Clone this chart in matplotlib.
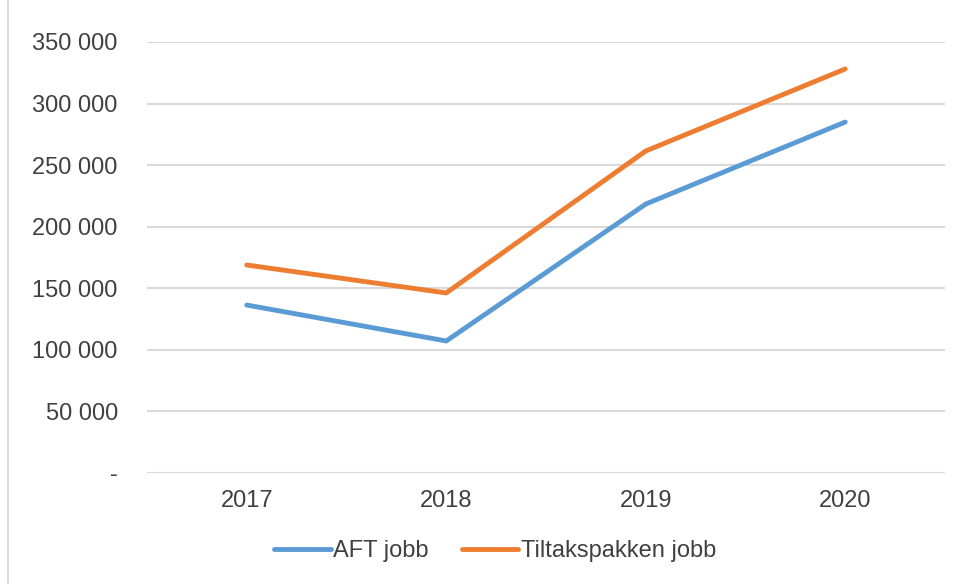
import matplotlib.pyplot as plt
from matplotlib.lines import Line2D
from matplotlib.ticker import FuncFormatter

years = ['2017', '2018', '2019', '2020']
aft_jobb = [136400, 107200, 218400, 285000]
tiltak_jobb = [168900, 146200, 261500, 328100]

plt.rcParams['font.family'] = ['Liberation Sans', 'DejaVu Sans']

fig = plt.figure(figsize=(9.65, 5.84), dpi=100)
ax = fig.add_axes([147 / 965, 1 - 473 / 584, (945 - 147) / 965, (473 - 42) / 584])

x = range(len(years))
ax.plot(x, aft_jobb, color='#5b9bd5', linewidth=3.5, solid_capstyle='round', label='AFT jobb')
ax.plot(x, tiltak_jobb, color='#ed7d31', linewidth=3.5, solid_capstyle='round', label='Tiltakspakken jobb')

ax.set_xlim(-0.5, 3.5)
ax.set_ylim(0, 350000)
ax.set_yticks(range(0, 350001, 50000))
ax.yaxis.set_major_formatter(FuncFormatter(
    lambda v, p: '-' if v == 0 else f'{int(v):,}'.replace(',', ' ')))
ax.set_xticks(list(x))
ax.set_xticklabels(years)
ax.grid(axis='y', color='#d9d9d9', linewidth=1.5)
ax.set_axisbelow(True)
for s in ax.spines.values():
    s.set_visible(False)
ax.tick_params(length=0, labelsize=17, labelcolor='#404040')
ax.tick_params(axis='y', pad=21)
ax.tick_params(axis='x', pad=12)

fig.legend(*ax.get_legend_handles_labels(), loc='center', bbox_to_anchor=(495 / 965, 1 - 551 / 584),
           ncol=2, frameon=False, fontsize=17, labelcolor='#404040', handlelength=2.4,
           handletextpad=0.1, columnspacing=1.4)

fig.add_artist(Line2D([8 / 965, 8 / 965], [0, 1], transform=fig.transFigure,
                      color='#d9d9d9', linewidth=1.5))

fig.savefig('out.png', dpi=100)
